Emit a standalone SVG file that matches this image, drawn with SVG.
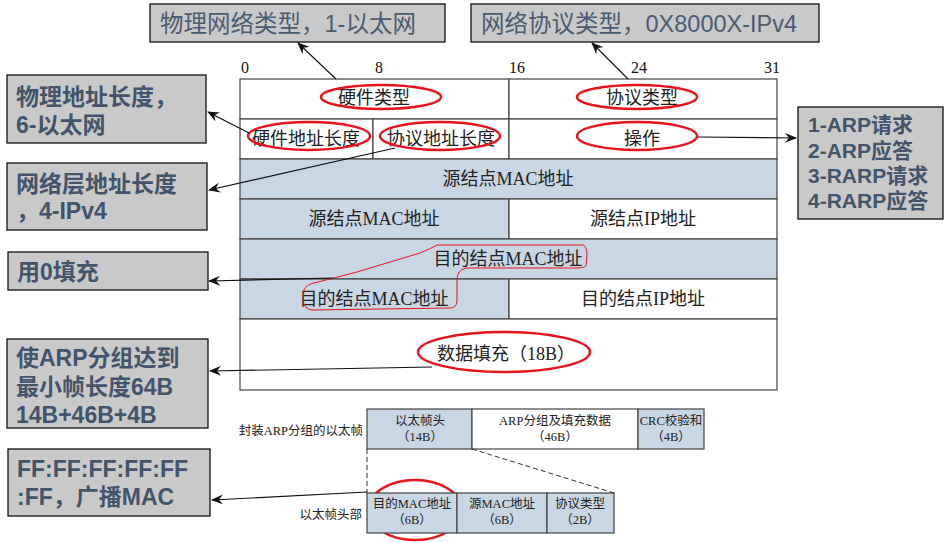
<svg xmlns="http://www.w3.org/2000/svg" width="944" height="542" viewBox="0 0 944 542">
<style>
.cell{stroke:#444;stroke-width:1.2}
.blue{fill:#c9d6e4}
.white{fill:#ffffff}
.t{font-family:"Liberation Serif","Noto Sans CJK SC",serif;font-size:18px;fill:#222;text-anchor:middle}
.bit{font-family:"Liberation Serif",serif;font-size:16px;fill:#111;text-anchor:middle}
.s{font-family:"Liberation Serif","Noto Sans CJK SC",serif;font-size:12.5px;fill:#222;text-anchor:middle}
.box{fill:#c9c9c9;stroke:#111;stroke-width:1.3}
.cr{font-family:"Liberation Sans","Noto Sans CJK SC",sans-serif;font-size:23.5px;fill:#4b5b70}
.cb{font-family:"Liberation Sans","Noto Sans CJK SC",sans-serif;font-size:23px;font-weight:bold;fill:#44546a}
.red{fill:none;stroke:#e8141c;stroke-width:2.5}
.conn{fill:none;stroke:#111;stroke-width:1.1;marker-end:url(#arr)}
.dash{fill:none;stroke:#333;stroke-width:1;stroke-dasharray:5,3}
</style>
<defs>
<marker id="arr" viewBox="0 0 12 10" refX="11" refY="5" markerWidth="12" markerHeight="10" markerUnits="userSpaceOnUse" orient="auto">
<path d="M0,0 L12,5 L0,10 L4,5 z" fill="#111"/>
</marker>
</defs>

<g id="bits">
<text class="bit" x="245" y="73">0</text>
<text class="bit" x="379" y="73">8</text>
<text class="bit" x="517" y="73">16</text>
<text class="bit" x="639" y="73">24</text>
<text class="bit" x="772" y="73">31</text>
</g>

<g id="arp-table">
<rect class="cell white" x="240" y="79" width="269" height="40"/>
<rect class="cell white" x="509" y="79" width="268" height="40"/>
<rect class="cell white" x="240" y="119" width="133" height="40"/>
<rect class="cell white" x="373" y="119" width="136" height="40"/>
<rect class="cell white" x="509" y="119" width="268" height="40"/>
<rect class="cell blue" x="240" y="159" width="537" height="40"/>
<rect class="cell blue" x="240" y="199" width="269" height="40"/>
<rect class="cell white" x="509" y="199" width="268" height="40"/>
<rect class="cell blue" x="240" y="239" width="537" height="40"/>
<rect class="cell blue" x="240" y="279" width="269" height="40"/>
<rect class="cell white" x="509" y="279" width="268" height="40"/>
<rect class="cell white" x="240" y="319" width="537" height="71"/>
<text class="t" x="374" y="104">硬件类型</text>
<text class="t" x="642" y="104">协议类型</text>
<text class="t" x="306" y="145">硬件地址长度</text>
<text class="t" x="441" y="145">协议地址长度</text>
<text class="t" x="642" y="145">操作</text>
<text class="t" x="508" y="185">源结点MAC地址</text>
<text class="t" x="374" y="225">源结点MAC地址</text>
<text class="t" x="643" y="225">源结点IP地址</text>
<text class="t" x="508" y="265">目的结点MAC地址</text>
<text class="t" x="374" y="305">目的结点MAC地址</text>
<text class="t" x="643" y="305">目的结点IP地址</text>
<text class="t" x="506" y="360">数据填充（18B）</text>
</g>

<g id="highlights">
<ellipse class="red" cx="381" cy="97" rx="60" ry="12"/>
<ellipse class="red" cx="637" cy="97" rx="60" ry="12"/>
<ellipse class="red" cx="309" cy="136" rx="61" ry="14"/>
<ellipse class="red" cx="440" cy="136" rx="60" ry="14"/>
<ellipse class="red" cx="637" cy="136" rx="60" ry="14"/>
<ellipse class="red" cx="504" cy="352" rx="86" ry="20"/>
<ellipse class="red" cx="415" cy="510" rx="47" ry="30"/>
<path d="M437,245 L583,245 Q587,246 587,256 L586,266 Q584,268 575,268 L466,268 Q457,270 457,280 L457,302 Q456,308 450,308 L312,310 Q304,309 303,300 L304,290 Q306,284 318,282 L357,272 Q390,262 420,253 Q430,249 437,245 Z" fill="none" stroke="#e8141c" stroke-width="1"/>
</g>

<g id="box-hwtype">
<rect class="box" x="150" y="4" width="295" height="38"/>
<text class="cr" x="160" y="32">物理网络类型，1-以太网</text>
</g>
<g id="box-prototype">
<rect class="box" x="471" y="4" width="348" height="38"/>
<text class="cr" x="481" y="32">网络协议类型，0X8000X-IPv4</text>
</g>
<g id="box-hwlen">
<rect class="box" x="7" y="75" width="199" height="68"/>
<text class="cb" x="16" y="105">物理地址长度，</text>
<text class="cb" x="16" y="133">6-以太网</text>
</g>
<g id="box-protolen">
<rect class="box" x="7" y="163" width="200" height="67"/>
<text class="cb" x="16" y="192">网络层地址长度</text>
<text class="cb" x="16" y="219">，4-IPv4</text>
</g>
<g id="box-zero">
<rect class="box" x="8" y="252" width="200" height="38"/>
<text class="cb" x="17" y="280">用0填充</text>
</g>
<g id="box-pad">
<rect class="box" x="7" y="339" width="201" height="89"/>
<text class="cb" x="16" y="366">使ARP分组达到</text>
<text class="cb" x="16" y="395">最小帧长度64B</text>
<text class="cb" x="16" y="423">14B+46B+4B</text>
</g>
<g id="box-mac">
<rect class="box" x="8" y="449" width="202" height="67"/>
<text class="cb" x="17" y="477">FF:FF:FF:FF:FF</text>
<text class="cb" x="17" y="505">:FF，广播MAC</text>
</g>
<g id="box-op">
<rect class="box" x="798" y="107" width="145" height="112"/>
<text class="cb" x="808" y="132" style="font-size:21px">1-ARP请求</text>
<text class="cb" x="808" y="158" style="font-size:21px">2-ARP应答</text>
<text class="cb" x="808" y="183" style="font-size:21px">3-RARP请求</text>
<text class="cb" x="808" y="208" style="font-size:21px">4-RARP应答</text>
</g>

<g id="eth-frame">
<text class="s" x="363" y="435" style="text-anchor:end">封装ARP分组的以太帧</text>
<rect class="cell blue" x="367" y="409" width="105" height="40"/>
<rect class="cell white" x="472" y="409" width="166" height="40"/>
<rect class="cell blue" x="638" y="409" width="66" height="40"/>
<text class="s" x="420" y="425">以太帧头</text>
<text class="s" x="420" y="441">（14B）</text>
<text class="s" x="555" y="425">ARP分组及填充数据</text>
<text class="s" x="555" y="441">（46B）</text>
<text class="s" x="671" y="425">CRC校验和</text>
<text class="s" x="671" y="441">（4B）</text>
</g>
<g id="eth-header">
<text class="s" x="362" y="519" style="text-anchor:end">以太帧头部</text>
<rect class="cell blue" x="367" y="493" width="90" height="40"/>
<rect class="cell blue" x="457" y="493" width="90" height="40"/>
<rect class="cell blue" x="547" y="493" width="67" height="40"/>
<text class="s" x="412" y="508">目的MAC地址</text>
<text class="s" x="412" y="524">（6B）</text>
<text class="s" x="502" y="508">源MAC地址</text>
<text class="s" x="502" y="524">（6B）</text>
<text class="s" x="580" y="508">协议类型</text>
<text class="s" x="580" y="524">（2B）</text>
</g>

<g id="connectors">
<line class="dash" x1="367" y1="449" x2="367" y2="493"/>
<line class="dash" x1="472" y1="449" x2="614" y2="493"/>
<line class="conn" x1="336" y1="79" x2="298" y2="43"/>
<line class="conn" x1="628" y1="79" x2="592" y2="43"/>
<line class="conn" x1="249" y1="133" x2="208" y2="112"/>
<line class="conn" x1="395" y1="148" x2="209" y2="190"/>
<line class="conn" x1="698" y1="137" x2="796" y2="138"/>
<line class="conn" x1="333" y1="278" x2="209" y2="281"/>
<line class="conn" x1="432" y1="367" x2="210" y2="371"/>
<line class="conn" x1="367" y1="492" x2="212" y2="500"/>
</g>
</svg>
